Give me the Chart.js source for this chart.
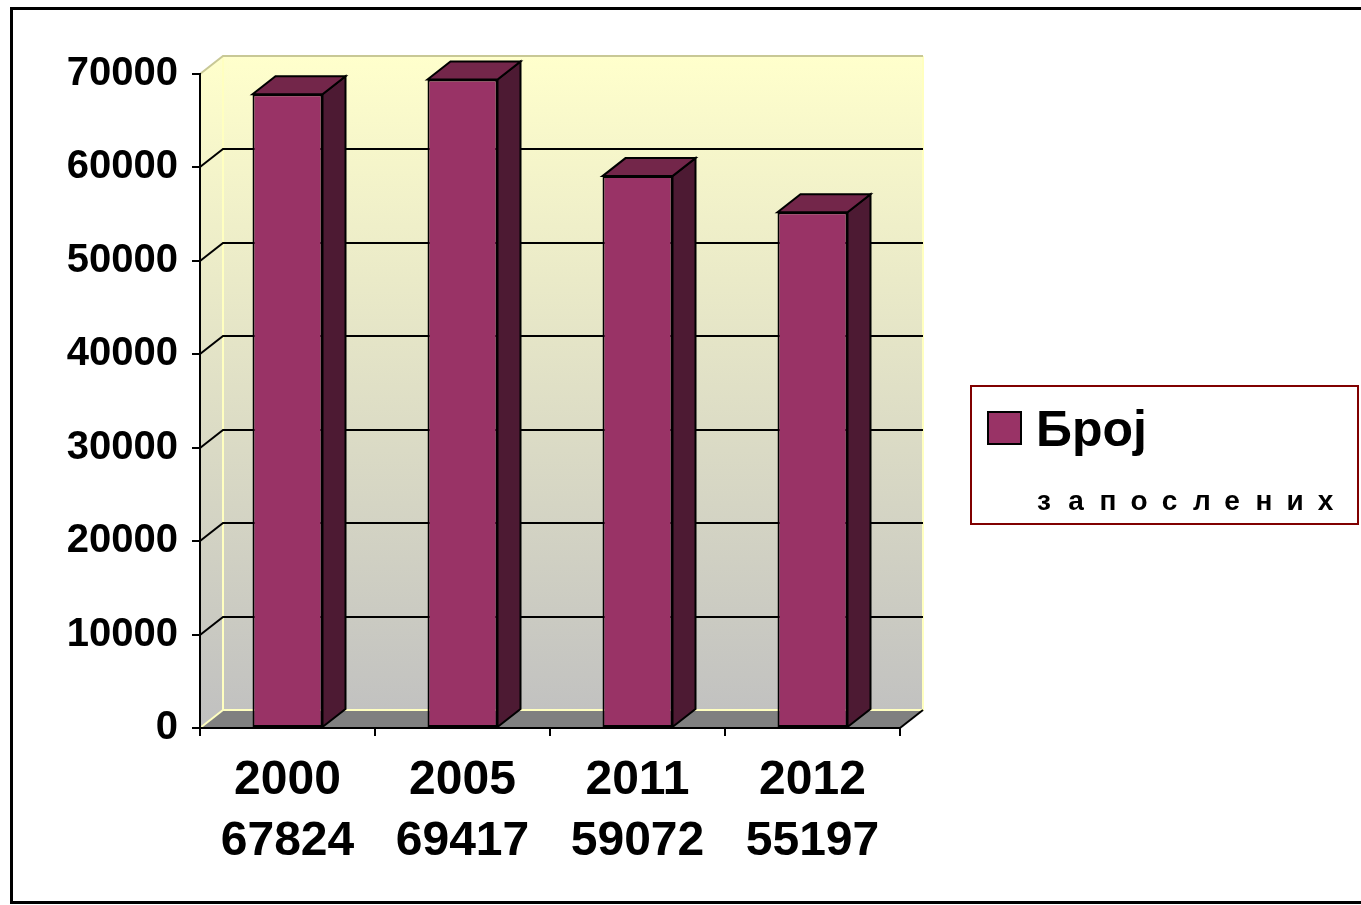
<!DOCTYPE html>
<html>
<head>
<meta charset="utf-8">
<script src="https://cdn.jsdelivr.net/npm/chart.js@4.4.1/dist/chart.umd.min.js"></script>
<style>
  html, body { margin: 0; padding: 0; background: #fff; }
  #wrap { width: 1361px; height: 905px; }
</style>
</head>
<body>
<div id="wrap"><canvas id="myChart" width="1361" height="905"></canvas></div>
<script>
// values
const years = ['2000', '2005', '2011', '2012'];
const employees = [67824, 69417, 59072, 55197];
const seriesName = 'Број запослених';
const yMax = 70000;
const yStep = 10000;

const FONT = '"Liberation Sans", Arial, sans-serif';
const DX = 23, DY = 18;   // depth of the fake 3d

const labels = years.map((y, i) => [y, String(employees[i])]);

function line(ctx, pts, color, w) {
    ctx.beginPath();
    ctx.moveTo(pts[0][0], pts[0][1]);
    for (let i = 1; i < pts.length; i++) ctx.lineTo(pts[i][0], pts[i][1]);
    ctx.strokeStyle = color;
    ctx.lineWidth = w;
    ctx.stroke();
}

function poly(ctx, pts, fill, stroke, w) {
    ctx.beginPath();
    ctx.moveTo(pts[0][0], pts[0][1]);
    for (let i = 1; i < pts.length; i++) ctx.lineTo(pts[i][0], pts[i][1]);
    ctx.closePath();
    ctx.fillStyle = fill;
    ctx.fill();
    if (stroke) {
        ctx.strokeStyle = stroke;
        ctx.lineWidth = w;
        ctx.lineJoin = 'miter';
        ctx.stroke();
    }
}

const walls = {
    id: 'walls',
    beforeDraw(chart) {
        const ctx = chart.ctx;
        const a = chart.chartArea;
        ctx.save();
        ctx.fillStyle = '#fff';
        ctx.fillRect(0, 0, chart.width, chart.height);

        // outer frame
        ctx.strokeStyle = '#000';
        ctx.lineWidth = 3;
        ctx.strokeRect(11.5, 8.5, chart.width + 10, 894);

        const g = ctx.createLinearGradient(0, a.top - DY, 0, a.bottom);
        g.addColorStop(0, '#ffffcc');
        g.addColorStop(1, '#c0c0c0');

        // back wall
        poly(ctx, [[a.left + DX, a.top - DY], [a.right + DX, a.top - DY],
                   [a.right + DX, a.bottom - DY], [a.left + DX, a.bottom - DY]], g);
        // side wall
        poly(ctx, [[a.left, a.top], [a.left + DX, a.top - DY],
                   [a.left + DX, a.bottom - DY], [a.left, a.bottom]], g);
        // floor
        poly(ctx, [[a.left, a.bottom], [a.left + DX, a.bottom - DY],
                   [a.right + DX, a.bottom - DY], [a.right, a.bottom]], '#808080');

        // wall edges
        line(ctx, [[a.left + DX, a.top - DY], [a.left + DX, a.bottom - DY], [a.right + DX, a.bottom - DY], [a.right + DX, a.top - DY]], '#ffffc0', 2);
        line(ctx, [[a.left, a.bottom], [a.left + DX, a.bottom - DY]], '#ffffc0', 2);
        line(ctx, [[a.left, a.top], [a.left + DX, a.top - DY], [a.right + DX, a.top - DY]], '#c8c896', 2);
        line(ctx, [[a.right, a.bottom], [a.right + DX, a.bottom - DY]], '#000', 2);
        ctx.restore();
    },
    beforeDatasetsDraw(chart) {
        const ctx = chart.ctx;
        const a = chart.chartArea;
        const ys = chart.scales.y;
        ctx.save();
        // grid lines on the walls
        ys.ticks.forEach(t => {
            if (t.value <= 0 || t.value >= yMax) return;
            const p = Math.round(ys.getPixelForValue(t.value));
            line(ctx, [[a.left, p], [a.left + DX, p - DY], [a.right + DX, p - DY]], '#000', 2);
        });
        // sides and tops of the bars
        chart.getDatasetMeta(0).data.forEach(el => {
            const l = el.x - el.width / 2, r = el.x + el.width / 2;
            poly(ctx, [[r, el.y], [r + DX, el.y - DY], [r + DX, el.base - DY], [r, el.base]], '#4d1a33', '#000', 2);
            poly(ctx, [[l, el.y], [l + DX, el.y - DY], [r + DX, el.y - DY], [r, el.y]], '#73264a', '#000', 2);
        });
        ctx.restore();
    },
    afterDraw(chart) {
        const ctx = chart.ctx;
        const ds = chart.data.datasets[0];
        const parts = ds.label.split(' ');
        ctx.save();
        ctx.strokeStyle = '#800000';
        ctx.lineWidth = 2;
        ctx.strokeRect(971, 386, 387, 138);
        ctx.fillStyle = ds.backgroundColor;
        ctx.fillRect(988, 412, 33, 32);
        ctx.strokeStyle = '#000';
        ctx.lineWidth = 2;
        ctx.strokeRect(988, 412, 33, 32);

        ctx.fillStyle = '#000';
        ctx.textBaseline = 'alphabetic';
        ctx.textAlign = 'left';
        ctx.font = 'bold 50px ' + FONT;
        ctx.fillText(parts[0], 1036, 446);
        ctx.font = 'bold 28px ' + FONT;
        const rest = Array.from(parts[1]);
        rest.forEach((ch, i) => ctx.fillText(ch, 1037 + i * 31.2, 510));
        ctx.restore();
    }
};

const statsChart = new Chart(document.getElementById('myChart').getContext('2d'), {
    type: 'bar',
    data: {
        labels: labels,
        datasets: [{
            label: seriesName,
            data: employees,
            backgroundColor: '#993366',
            borderColor: '#000',
            borderWidth: 2,
            borderSkipped: false,
            barPercentage: 0.4,
            categoryPercentage: 1.0
        }]
    },
    options: {
        responsive: false,
        animation: false,
        layout: { padding: { top: 74, right: 461, left: 0, bottom: 0 } },
        plugins: { legend: { display: false }, tooltip: { enabled: false } },
        scales: {
            x: {
                afterFit(s) { s.height = 177; },
                grid: { drawOnChartArea: false, drawTicks: true, tickLength: 8, color: '#000', lineWidth: 2 },
                border: { display: true, color: '#000', width: 2 },
                ticks: { color: '#000', padding: 14, font: { family: FONT, size: 48, weight: 'bold', lineHeight: 1.27 }, maxRotation: 0 }
            },
            y: {
                min: 0,
                max: yMax,
                afterFit(s) { s.width = 200; },
                grid: { drawOnChartArea: false, drawTicks: true, tickLength: 8, color: '#000', lineWidth: 2 },
                border: { display: true, color: '#000', width: 2 },
                ticks: {
                    stepSize: yStep,
                    color: '#000',
                    padding: 14,
                    font: { family: FONT, size: 40, weight: 'bold' },
                    callback: v => String(v)
                }
            }
        }
    },
    plugins: [walls]
});
</script>
</body>
</html>
